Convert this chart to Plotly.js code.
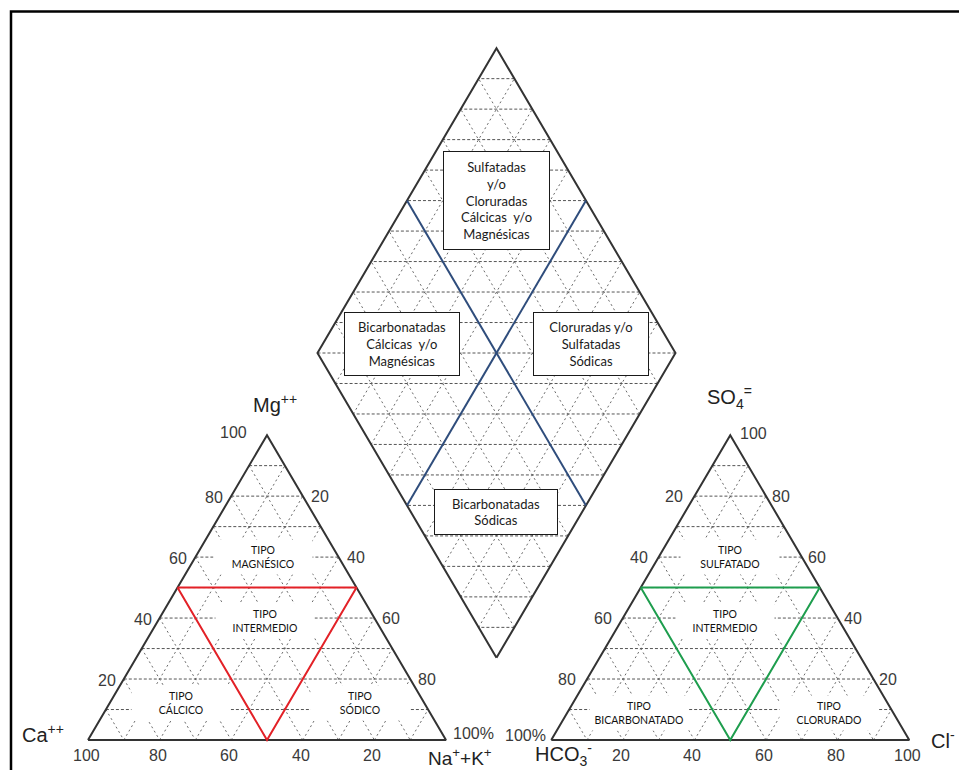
<!DOCTYPE html>
<html>
<head>
<meta charset="utf-8">
<script src="https://cdn.plot.ly/plotly-3.0.1.min.js"></script>
<style>
html,body{margin:0;padding:0;background:#fff;}
#chart{width:959px;height:770px;}
</style>
</head>
<body>
<div id="chart"></div>
<script>
// ================= DATA =================
const GRID_LEVELS = [10, 20, 30, 40, 50, 60, 70, 80, 90];
const DIAMOND_ROWS = [10, 20, 30, 40, 50, 60, 70, 80, 90, 100, 110, 120, 130, 140, 150, 160, 170, 180, 190];

const CATION_AXIS_MG = [20, 40, 60, 80, 100];
const CATION_AXIS_MG_TEXT = ['20', '40', '60', '80', '100'];
const CATION_AXIS_NAK = [20, 40, 60, 80, 100];
const CATION_AXIS_NAK_TEXT = ['20', '40', '60', '80', '100%'];
const CATION_AXIS_CA = [100, 80, 60, 40, 20];
const CATION_AXIS_CA_TEXT = ['100', '80', '60', '40', '20'];

const ANION_AXIS_HCO3 = [20, 40, 60, 80, 100];
const ANION_AXIS_HCO3_TEXT = ['20', '40', '60', '80', '100%'];
const ANION_AXIS_SO4 = [100, 80, 60, 40, 20];
const ANION_AXIS_SO4_TEXT = ['100', '80', '60', '40', '20'];
const ANION_AXIS_CL = [20, 40, 60, 80, 100];
const ANION_AXIS_CL_TEXT = ['20', '40', '60', '80', '100'];

// "intermediate type" boundaries (percent)
const CATION_BOUNDARY_CA  = [50, 0, 50, 50];
const CATION_BOUNDARY_MG  = [50, 50, 0, 50];
const CATION_BOUNDARY_NAK = [0, 50, 50, 0];
const ANION_BOUNDARY_HCO3 = [50, 0, 50, 50];
const ANION_BOUNDARY_SO4  = [50, 50, 0, 50];
const ANION_BOUNDARY_CL   = [0, 50, 50, 0];

// diamond dividing lines (percent along the edges)
const DIAMOND_DIVIDERS = [50];

const CATION_TYPES = ['TIPO<br>MAGNÉSICO', 'TIPO<br>INTERMEDIO', 'TIPO<br>CÁLCICO', 'TIPO<br>SÓDICO'];
const ANION_TYPES = ['TIPO<br>SULFATADO', 'TIPO<br>INTERMEDIO', 'TIPO<br>BICARBONATADO', 'TIPO<br>CLORURADO'];
const DIAMOND_TYPES = [
  'Sulfatadas<br>y/o<br>Cloruradas<br>Cálcicas  y/o<br>Magnésicas',
  'Bicarbonatadas<br>Cálcicas  y/o<br>Magnésicas',
  'Cloruradas y/o<br>Sulfatadas<br>Sódicas',
  'Bicarbonatadas<br>Sódicas'
];
const AXIS_NAMES = ['Mg<sup>++</sup>', 'Ca<sup>++</sup>', 'Na<sup>+</sup>+K<sup>+</sup>',
                    'SO<sub>4</sub><sup>=</sup>', 'HCO<sub>3</sub><sup>-</sup>', 'Cl<sup>-</sup>'];

// ================= GEOMETRY =================
const W = 959, H = 770;
const S3 = Math.sqrt(3) / 2;
const GAP = 29.4;
const AN_X0 = 100 + GAP;
const DIA_BX = 114.1, DIA_BY = 23.34;

function cat(ca, mg, na) { return [na + mg / 2, mg * S3]; }
function an(hco3, so4, cl) { return [AN_X0 + cl + so4 / 2, so4 * S3]; }
function dia(p, q) { return [DIA_BX + (p - q) / 2, DIA_BY + (p + q) * S3]; }

function segs(pairs) {
  const x = [], y = [];
  pairs.forEach(([a, b]) => { x.push(a[0], b[0], null); y.push(a[1], b[1], null); });
  return { x, y };
}
function poly(pts) {
  return { x: pts.map(p => p[0]), y: pts.map(p => p[1]) };
}

// grids: horizontal rows and slanted lines
const rowPairs = [], slantPairs = [];
GRID_LEVELS.forEach(k => {
  rowPairs.push([cat(100 - k, k, 0), cat(0, k, 100 - k)]);
  slantPairs.push([cat(k, 100 - k, 0), cat(k, 0, 100 - k)]);
  slantPairs.push([cat(100 - k, 0, k), cat(0, 100 - k, k)]);
  rowPairs.push([an(100 - k, k, 0), an(0, k, 100 - k)]);
  slantPairs.push([an(k, 100 - k, 0), an(k, 0, 100 - k)]);
  slantPairs.push([an(100 - k, 0, k), an(0, 100 - k, k)]);
  slantPairs.push([dia(k, 0), dia(k, 100)]);
  slantPairs.push([dia(0, k), dia(100, k)]);
});
DIAMOND_ROWS.forEach(s => {
  if (s <= 100) rowPairs.push([dia(s, 0), dia(0, s)]);
  else rowPairs.push([dia(100, s - 100), dia(s - 100, 100)]);
});
const rows = segs(rowPairs);
const slants = segs(slantPairs);

const catOutline = poly([cat(100, 0, 0), cat(0, 0, 100), cat(0, 100, 0), cat(100, 0, 0)]);
const anOutline = poly([an(100, 0, 0), an(0, 0, 100), an(0, 100, 0), an(100, 0, 0)]);
const diaOutline = poly([dia(0, 0), dia(100, 0), dia(100, 100), dia(0, 100), dia(0, 0)]);

const blue = segs(DIAMOND_DIVIDERS.flatMap(d => [[dia(d, 0), dia(d, 100)], [dia(0, d), dia(100, d)]]));
const red = poly(CATION_BOUNDARY_CA.map((c, i) => cat(c, CATION_BOUNDARY_MG[i], CATION_BOUNDARY_NAK[i])));
const green = poly(ANION_BOUNDARY_HCO3.map((h, i) => an(h, ANION_BOUNDARY_SO4[i], ANION_BOUNDARY_CL[i])));

const lineTrace = (d, color, width, dash) => ({
  type: 'scatter', mode: 'lines', x: d.x, y: d.y, hoverinfo: 'skip',
  line: { color, width, dash: dash || 'solid' }, connectgaps: false
});

const traces = [
  lineTrace(slants, '#6a6a6a', 1, '2px,3px'),
  lineTrace(rows, '#555555', 1, '3px,2px'),
  lineTrace(catOutline, '#333333', 2),
  lineTrace(anOutline, '#333333', 2),
  lineTrace(diaOutline, '#333333', 2),
  lineTrace(blue, '#2f4d7c', 2),
  lineTrace(red, '#e32127', 2),
  lineTrace(green, '#1e9e4e', 2)
];

// ================= ANNOTATIONS =================
const TICK_FONT = { family: 'Liberation Sans, Arial, sans-serif', size: 16, color: '#3a3a3a' };
const TITLE_FONT = { family: 'Liberation Sans, Arial, sans-serif', size: 20, color: '#222' };
const TYPE_FONT = { family: 'Lato, sans-serif', size: 10.5, color: '#111' };
const BOX_FONT = { family: 'Lato, sans-serif', size: 13, color: '#1a1a1a' };

const anns = [];
function tick(pt, text, xanchor, xshift, yshift) {
  anns.push({ xref: 'x', yref: 'y', x: pt[0], y: pt[1], text, showarrow: false,
    xanchor, yanchor: 'middle', xshift, yshift, font: TICK_FONT, borderpad: 0 });
}
CATION_AXIS_MG.forEach((v, i) => tick(cat(100 - v, v, 0), CATION_AXIS_MG_TEXT[i], 'right', v === 100 ? -19 : -7, v === 100 ? 3 : -1));
CATION_AXIS_NAK.forEach((v, i) => tick(cat(0, 100 - v, v), CATION_AXIS_NAK_TEXT[i], 'left', v === 100 ? 6 : 7, v === 100 ? 7 : 0));
CATION_AXIS_CA.forEach((v, i) => tick(cat(v, 0, 100 - v), CATION_AXIS_CA_TEXT[i], 'center', -2, -15));
ANION_AXIS_HCO3.forEach((v, i) => tick(an(v, 100 - v, 0), ANION_AXIS_HCO3_TEXT[i], 'right', v === 100 ? -4 : -10, v === 100 ? 5 : 0));
ANION_AXIS_SO4.forEach((v, i) => tick(an(0, v, 100 - v), ANION_AXIS_SO4_TEXT[i], 'left', v === 100 ? 9 : 5, v === 100 ? 2 : 0));
ANION_AXIS_CL.forEach((v, i) => tick(an(100 - v, 0, v), ANION_AXIS_CL_TEXT[i], 'center', -2, -15));

function typeLabel(pt, text) {
  anns.push({ xref: 'x', yref: 'y', x: pt[0], y: pt[1], text, showarrow: false,
    xanchor: 'center', yanchor: 'middle', font: TYPE_FONT, bgcolor: '#ffffff',
    borderpad: 0, width: 98, height: 34 });
}
const catTypePos = [cat(21, 60, 19), cat(31, 39, 30), cat(68, 12, 20), cat(18, 12, 70)];
const anTypePos = [an(20, 60, 20), an(32, 39, 29), an(71, 9, 20), an(18, 9, 73)];
CATION_TYPES.forEach((t, i) => typeLabel(catTypePos[i], t));
ANION_TYPES.forEach((t, i) => typeLabel(anTypePos[i], t));

const boxPos = [dia(75, 75), dia(25, 78), dia(78, 25), dia(24, 24)];
const boxSize = [[103, 95], [112, 60], [112, 60], [120, 42]];
DIAMOND_TYPES.forEach((t, i) => {
  anns.push({ xref: 'x', yref: 'y', x: boxPos[i][0], y: boxPos[i][1], text: t, showarrow: false,
    xanchor: 'center', yanchor: 'middle', font: BOX_FONT, bgcolor: '#ffffff',
    bordercolor: '#1a1a1a', borderwidth: 1, borderpad: 1,
    width: boxSize[i][0], height: boxSize[i][1], align: 'center' });
});

const px = v => v / W, py = v => 1 - v / H;
const titlePos = [[252, 404], [21, 733], [427, 757], [706, 398], [534, 754], [930, 739]];
const titleSize = [20, 20, 19, 20, 20, 20];
AXIS_NAMES.forEach((t, i) => {
  anns.push({ xref: 'paper', yref: 'paper', x: px(titlePos[i][0]), y: py(titlePos[i][1]), text: t,
    showarrow: false, xanchor: 'left', yanchor: 'middle', borderpad: 0,
    font: Object.assign({}, TITLE_FONT, { size: titleSize[i] }) });
});

const layout = {
  width: W, height: H, autosize: false,
  margin: { l: 0, r: 0, t: 0, b: 0, pad: 0 },
  paper_bgcolor: '#ffffff', plot_bgcolor: '#ffffff',
  showlegend: false,
  xaxis: { range: [-88 / 3.58, (W - 88) / 3.58], visible: false, fixedrange: true },
  yaxis: { range: [-(H - 740) / 3.52, 740 / 3.52], visible: false, fixedrange: true },
  annotations: anns,
  shapes: [{ type: 'rect', xref: 'paper', yref: 'paper', x0: px(11), x1: 1.05, y0: -0.05, y1: py(11.5),
    line: { color: '#000', width: 2.5 }, fillcolor: 'rgba(0,0,0,0)', layer: 'above' }]
};

Plotly.newPlot('chart', traces, layout, { staticPlot: true, displayModeBar: false });
</script>
</body>
</html>
